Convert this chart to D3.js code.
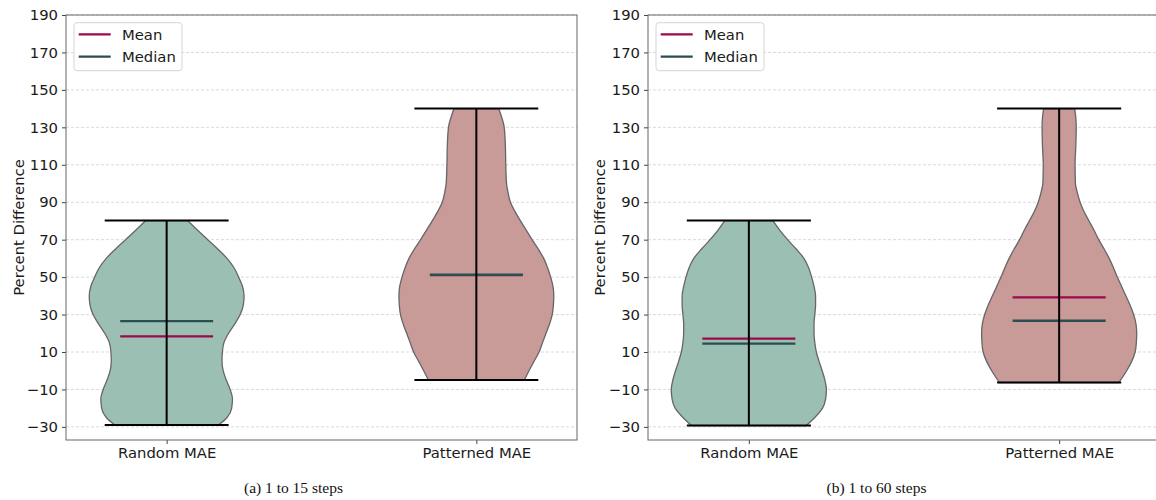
<!DOCTYPE html>
<html>
<head>
<meta charset="utf-8">
<script src="https://cdn.jsdelivr.net/npm/d3@7"></script>
<style>
  html, body { margin: 0; padding: 0; background: #fff; }
  svg { display: block; }
</style>
</head>
<body>
<svg id="chart" width="1156" height="500"></svg>
<script>
// ---------- DATA ----------
const categories = ["Random MAE", "Patterned MAE"];
const yTicks = [-30, -10, 10, 30, 50, 70, 90, 110, 130, 150, 170, 190];
const panelCaptions = ["(a) 1 to 15 steps", "(b) 1 to 60 steps"];
const legendLabels = ["Mean", "Median"];

// panel (a): 1 to 15 steps
const aMeans = [18.4, 51.0];
const aMedians = [26.5, 51.3];
const aMins = [-29.0, -5.0];
const aMaxs = [80.2, 140.0];
// density profiles: [value, relative density]
const aRandomDensity = [[80.2,0.27],[75,0.40],[70,0.53],[65,0.66],[60,0.78],[55,0.87],[50,0.93],[45,0.98],[40,1.0],[35,0.99],[30,0.95],[25,0.88],[20,0.80],[15,0.74],[10,0.72],[5,0.715],[0,0.73],[-5,0.77],[-10,0.82],[-15,0.85],[-20,0.84],[-25,0.78],[-29.0,0.67]];
const aPatternedDensity = [[140,0.29],[135,0.33],[130,0.36],[120,0.375],[110,0.38],[100,0.39],[95,0.41],[90,0.44],[85,0.50],[80,0.57],[75,0.645],[70,0.72],[65,0.80],[60,0.87],[55,0.92],[50,0.96],[45,0.99],[40,1.0],[35,0.995],[30,0.98],[25,0.945],[20,0.90],[15,0.855],[10,0.81],[5,0.745],[0,0.68],[-5.0,0.62]];

// panel (b): 1 to 60 steps
const bMeans = [17.1, 39.2];
const bMedians = [14.5, 26.7];
const bMins = [-29.3, -6.3];
const bMaxs = [80.2, 140.0];
const bRandomDensity = [[80.2,0.31],[75,0.40],[70,0.50],[65,0.61],[60,0.71],[55,0.77],[50,0.81],[45,0.84],[40,0.86],[35,0.86],[30,0.85],[25,0.84],[20,0.84],[15,0.85],[10,0.87],[5,0.905],[0,0.945],[-5,0.98],[-10,1.0],[-15,0.99],[-20,0.95],[-25,0.85],[-29.3,0.74]];
const bPatternedDensity = [[140,0.20],[135,0.215],[130,0.22],[120,0.215],[110,0.205],[100,0.21],[95,0.235],[90,0.27],[85,0.32],[80,0.385],[75,0.45],[70,0.51],[65,0.58],[60,0.645],[55,0.70],[50,0.75],[45,0.805],[40,0.86],[35,0.915],[30,0.96],[25,0.99],[20,1.0],[15,0.995],[10,0.98],[5,0.935],[0,0.87],[-6.3,0.77]];

// ---------- STYLE ----------
const fills = ["#9cbfb4", "#c89a98"];
const edgeColor = "#666666";
const meanColor = "#9b0a4b";
const medianColor = "#2b4e50";
const font = "'DejaVu Sans', sans-serif";

const svg = d3.select("#chart");

const panels = [
  { left: 66, right: 577, cap: panelCaptions[0], capX: 293.5,
    means: aMeans, medians: aMedians, mins: aMins, maxs: aMaxs,
    dens: [aRandomDensity, aPatternedDensity], ylabelX: 18 },
  { left: 648, right: 1160, cap: panelCaptions[1], capX: 876.5,
    means: bMeans, medians: bMedians, mins: bMins, maxs: bMaxs,
    dens: [bRandomDensity, bPatternedDensity], ylabelX: 599 }
];

const plotTop = 15, plotBottom = 440;
const y = d3.scaleLinear().domain([-37, 190]).range([plotBottom, plotTop]);

panels.forEach((p) => {
  const g = svg.append("g");
  const x = d3.scaleLinear().domain([0.675, 2.325]).range([p.left, p.right]);
  const width = p.right - p.left;

  // gridlines
  g.append("g").selectAll("line").data(yTicks).join("line")
    .attr("x1", p.left).attr("x2", p.right)
    .attr("y1", d => y(d)).attr("y2", d => y(d))
    .attr("stroke", "#cfcfcf").attr("stroke-width", 0.8)
    .attr("stroke-dasharray", "3,2");

  // violins
  categories.forEach((c, i) => {
    const pos = i + 1;
    const prof = p.dens[i];
    const area = d3.area()
      .y(d => y(d[0]))
      .x0(d => x(pos - 0.25 * d[1]))
      .x1(d => x(pos + 0.25 * d[1]))
      .curve(d3.curveMonotoneY);
    g.append("path").datum(prof)
      .attr("d", area)
      .attr("fill", fills[i])
      .attr("stroke", edgeColor)
      .attr("stroke-width", 1.3);

    // mean
    g.append("line")
      .attr("x1", x(pos - 0.15)).attr("x2", x(pos + 0.15))
      .attr("y1", y(p.means[i])).attr("y2", y(p.means[i]))
      .attr("stroke", meanColor).attr("stroke-width", 2.2);
    // median
    g.append("line")
      .attr("x1", x(pos - 0.15)).attr("x2", x(pos + 0.15))
      .attr("y1", y(p.medians[i])).attr("y2", y(p.medians[i]))
      .attr("stroke", medianColor).attr("stroke-width", 2.4);
    // bar
    g.append("line")
      .attr("x1", x(pos)).attr("x2", x(pos))
      .attr("y1", y(p.mins[i])).attr("y2", y(p.maxs[i]))
      .attr("stroke", "#000").attr("stroke-width", 2);
    // caps
    [p.mins[i], p.maxs[i]].forEach(v => {
      g.append("line")
        .attr("x1", x(pos - 0.2)).attr("x2", x(pos + 0.2))
        .attr("y1", y(v)).attr("y2", y(v))
        .attr("stroke", "#000").attr("stroke-width", 2);
    });
  });

  // axes
  const yAxis = d3.axisLeft(y).tickValues(yTicks).tickSize(4).tickPadding(4)
    .tickFormat(d => d < 0 ? "\u2212" + Math.abs(d) : d);
  const ya = g.append("g").attr("transform", `translate(${p.left},0)`).call(yAxis);
  ya.select(".domain").remove();
  ya.selectAll("line").attr("stroke", "#444");
  ya.selectAll("text").attr("font-family", font).attr("font-size", 14.8).attr("fill", "#1a1a1a");

  const xAxis = d3.axisBottom(x).tickValues([1, 2]).tickSize(4).tickPadding(3)
    .tickFormat(d => categories[d - 1]);
  const xa = g.append("g").attr("transform", `translate(0,${plotBottom})`).call(xAxis);
  xa.select(".domain").remove();
  xa.selectAll("line").attr("stroke", "#444");
  xa.selectAll("text").attr("font-family", font).attr("font-size", 14.8).attr("fill", "#1a1a1a");

  // frame
  g.append("rect").attr("x", p.left).attr("y", plotTop)
    .attr("width", width).attr("height", plotBottom - plotTop)
    .attr("fill", "none").attr("stroke", "#666").attr("stroke-width", 1);

  // y label
  g.append("text")
    .attr("transform", `translate(${p.ylabelX},${(plotTop + plotBottom) / 2}) rotate(-90)`)
    .attr("text-anchor", "middle").attr("dominant-baseline", "central")
    .attr("font-family", font).attr("font-size", 14.8).attr("fill", "#1a1a1a")
    .text("Percent Difference");

  // legend
  const lg = g.append("g").attr("transform", `translate(${p.left + 8},${plotTop + 7.7})`);
  lg.append("rect").attr("x", 0).attr("y", 0).attr("width", 108).attr("height", 48)
    .attr("rx", 3).attr("fill", "#fff").attr("fill-opacity", 0.85)
    .attr("stroke", "#d5d5d5").attr("stroke-width", 1);
  [meanColor, medianColor].forEach((col, k) => {
    const cy = 11.6 + k * 22.4;
    lg.append("line").attr("x1", 4.7).attr("x2", 36.7).attr("y1", cy).attr("y2", cy)
      .attr("stroke", col).attr("stroke-width", 2.2);
    lg.append("text").attr("x", 48).attr("y", cy).attr("dominant-baseline", "central")
      .attr("font-family", font).attr("font-size", 14.8).attr("fill", "#1a1a1a")
      .text(legendLabels[k]);
  });

  // caption
  svg.append("text").attr("x", p.capX).attr("y", 493)
    .attr("text-anchor", "middle")
    .attr("font-family", "'Liberation Serif', 'Times New Roman', serif")
    .attr("font-size", 15.5).attr("fill", "#111")
    .text(p.cap);
});
</script>
</body>
</html>
